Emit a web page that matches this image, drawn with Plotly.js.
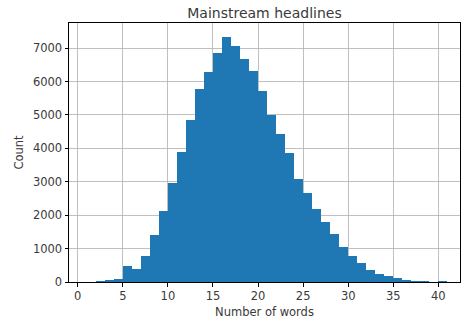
<!DOCTYPE html>
<html>
<head>
<meta charset="utf-8">
<script src="https://cdn.plot.ly/plotly-3.0.1.min.js"></script>
<style>
html,body{margin:0;padding:0;background:#fff;}
#chart{width:465px;height:324px;}
</style>
</head>
<body>
<div id="chart"></div>
<script>
// Bin left edges (number of words) and counts per bin
const binStarts = [2,3,4,5,6,7,8,9,10,11,12,13,14,15,16,17,18,19,20,21,22,23,24,25,26,27,28,29,30,31,32,33,34,35,36,37,38,39,40];
const counts = [20,50,85,490,390,790,1400,2135,2955,3895,4840,5770,6270,6865,7325,7075,6665,6305,5715,4990,4430,3870,3095,2650,2190,1785,1425,1035,765,565,360,235,175,110,60,30,30,10,30];
const binWidth = 1;
const xTicks = [0,5,10,15,20,25,30,35,40];
const yTicks = [0,1000,2000,3000,4000,5000,6000,7000];

const font = {family: 'DejaVu Sans, sans-serif', color: '#3a3a3a', size: 11.5};

const trace = {
  type: 'bar',
  x: binStarts.map(s => s + binWidth / 2),
  y: counts,
  width: binWidth,
  marker: {color: '#1f77b4', line: {width: 0}},
  hoverinfo: 'x+y'
};

const axisCommon = {
  showline: true, linecolor: '#000', linewidth: 1, mirror: true,
  ticks: 'outside', ticklen: 3.5, tickwidth: 1, tickcolor: '#000',
  showgrid: true, gridcolor: 'rgba(176,176,176,0.8)', gridwidth: 1,
  zeroline: false, layer: 'above traces', tickfont: font
};

const layout = {
  width: 465, height: 324,
  margin: {l: 69, r: 5, t: 23, b: 42},
  paper_bgcolor: '#fff', plot_bgcolor: '#fff',
  bargap: 0,
  showlegend: false,
  title: {text: 'Mainstream headlines', font: {family: font.family, color: '#3a3a3a', size: 14}, x: 0.5, xref: 'paper', xanchor: 'center', y: 0.96, yanchor: 'middle', yref: 'container'},
  xaxis: Object.assign({}, axisCommon, {
    range: [-0.97, 42.4], tickmode: 'array', tickvals: xTicks, ticktext: xTicks.map(String),
    title: {text: 'Number of words', font: font, standoff: 5}
  }),
  yaxis: Object.assign({}, axisCommon, {
    range: [0, 7750], tickmode: 'array', tickvals: yTicks, ticktext: yTicks.map(String),
    title: {text: 'Count', font: font, standoff: 6}
  })
};

Plotly.newPlot('chart', [trace], layout, {displayModeBar: false, staticPlot: true});
</script>
</body>
</html>
